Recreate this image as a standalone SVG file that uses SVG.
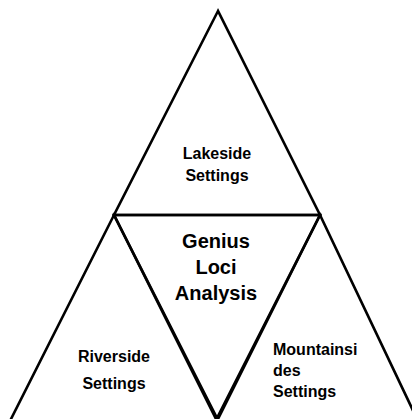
<svg xmlns="http://www.w3.org/2000/svg" width="412" height="419" viewBox="0 0 412 419">
<style>
.tri{fill:none;stroke:#000;stroke-width:2.6;stroke-linejoin:miter}
.t{font-family:"Liberation Sans",Arial,sans-serif;font-weight:bold;fill:#000}
.s{font-size:16px}
.m{font-size:20px}
.r{font-size:16px}
</style>
<rect width="412" height="419" fill="#fff"/>
<g id="lakeside">
<polygon class="tri" points="218,11 114,215 320,215"/>
<text class="t s" x="217" y="159" text-anchor="middle">Lakeside</text>
<text class="t s" x="217" y="181" text-anchor="middle">Settings</text>
</g>
<g id="genius">
<polygon class="tri" points="114,215 320,215 217,418"/>
<text class="t m" x="216" y="248" text-anchor="middle">Genius</text>
<text class="t m" x="216" y="274" text-anchor="middle">Loci</text>
<text class="t m" x="216" y="300" text-anchor="middle">Analysis</text>
</g>
<g id="riverside">
<polygon class="tri" points="114,215 10,421 217,421"/>
<text class="t s" x="114" y="362" text-anchor="middle">Riverside</text>
<text class="t s" x="114" y="389" text-anchor="middle">Settings</text>
</g>
<g id="mountainsides">
<polygon class="tri" points="320,215 217,421 418,421"/>
<text class="t r" x="273" y="355">Mountainsi</text>
<text class="t r" x="273" y="376">des</text>
<text class="t r" x="273" y="397">Settings</text>
</g>
<g id="connectors"></g>
</svg>
